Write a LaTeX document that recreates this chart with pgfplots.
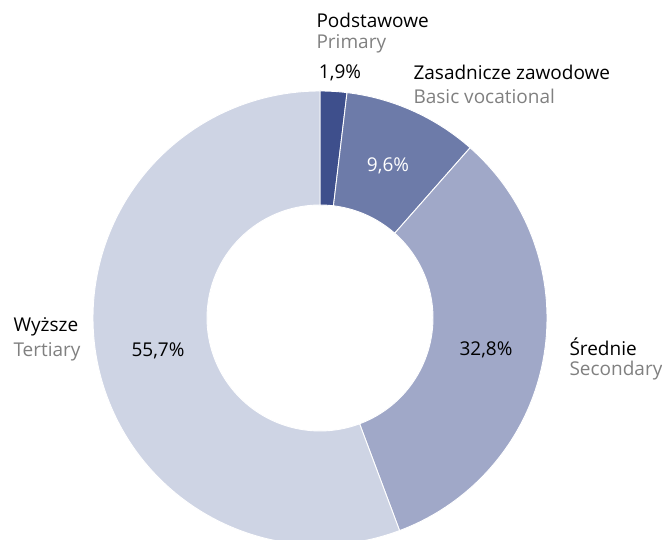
\documentclass[border=0pt]{standalone}
\usepackage{pgfplots}
\usepackage{pgfplotstable}
\pgfplotsset{compat=1.18}
\usepackage{fontspec}
\setmainfont{Open Sans}
\definecolor{c0}{HTML}{3E4F8C}
\definecolor{c1}{HTML}{6D7BA9}
\definecolor{c2}{HTML}{A0A8C8}
\definecolor{c3}{HTML}{CED4E4}
\definecolor{lbl}{HTML}{808080}
\pgfplotstableread{
share
1.9
9.6
32.8
55.7
}\donutdata
\begin{document}
\begin{tikzpicture}[font=\fontsize{19}{22}\selectfont]
\begin{axis}[
  x=1pt, y=1pt,
  xmin=0, xmax=662, ymin=0, ymax=540,
  hide axis, clip=true,
  every node/.style={inner sep=0pt},
]
\coordinate (ll) at (axis cs:0,0);
\coordinate (ur) at (axis cs:662,540);
\pgfmathsetmacro\cum{0}
\pgfplotsforeachungrouped \i in {0,...,3}{
  \pgfplotstablegetelem{\i}{share}\of\donutdata
  \pgfmathsetmacro\a{90-\cum*3.6}
  \pgfmathsetmacro\b{90-(\cum+\pgfplotsretval)*3.6}
  \pgfmathsetmacro\cum{\cum+\pgfplotsretval}
  \edef\temp{\noexpand\filldraw[fill=c\i, draw=white, line width=0.9pt]
    ([shift={(\a:227pt)}]axis cs:320,222) arc[start angle=\a, end angle=\b, radius=227pt]
    -- ([shift={(\b:113pt)}]axis cs:320,222) arc[start angle=\b, end angle=\a, radius=113pt]
    -- cycle;}
  \temp
}
\node[anchor=west] at (axis cs:313,520) {Podstawowe};
\node[anchor=west, text=lbl] at (axis cs:313,496) {Primary};
\node at (axis cs:340,467) {1,9\%};
\node[anchor=west] at (axis cs:410,468) {Zasadnicze zawodowe};
\node[anchor=west, text=lbl] at (axis cs:410,444) {Basic vocational};
\node[text=white] at (axis cs:388,374) {9,6\%};
\node at (axis cs:486,190) {32,8\%};
\node[anchor=west] at (axis cs:566,193) {Średnie};
\node[anchor=west, text=lbl] at (axis cs:566,169) {Secondary};
\node[anchor=west] at (axis cs:10,213) {Wyższe};
\node[anchor=west, text=lbl] at (axis cs:10,188) {Tertiary};
\node at (axis cs:158,189) {55,7\%};
\end{axis}
\pgfresetboundingbox
\path (ll) rectangle (ur);
\end{tikzpicture}
\end{document}
